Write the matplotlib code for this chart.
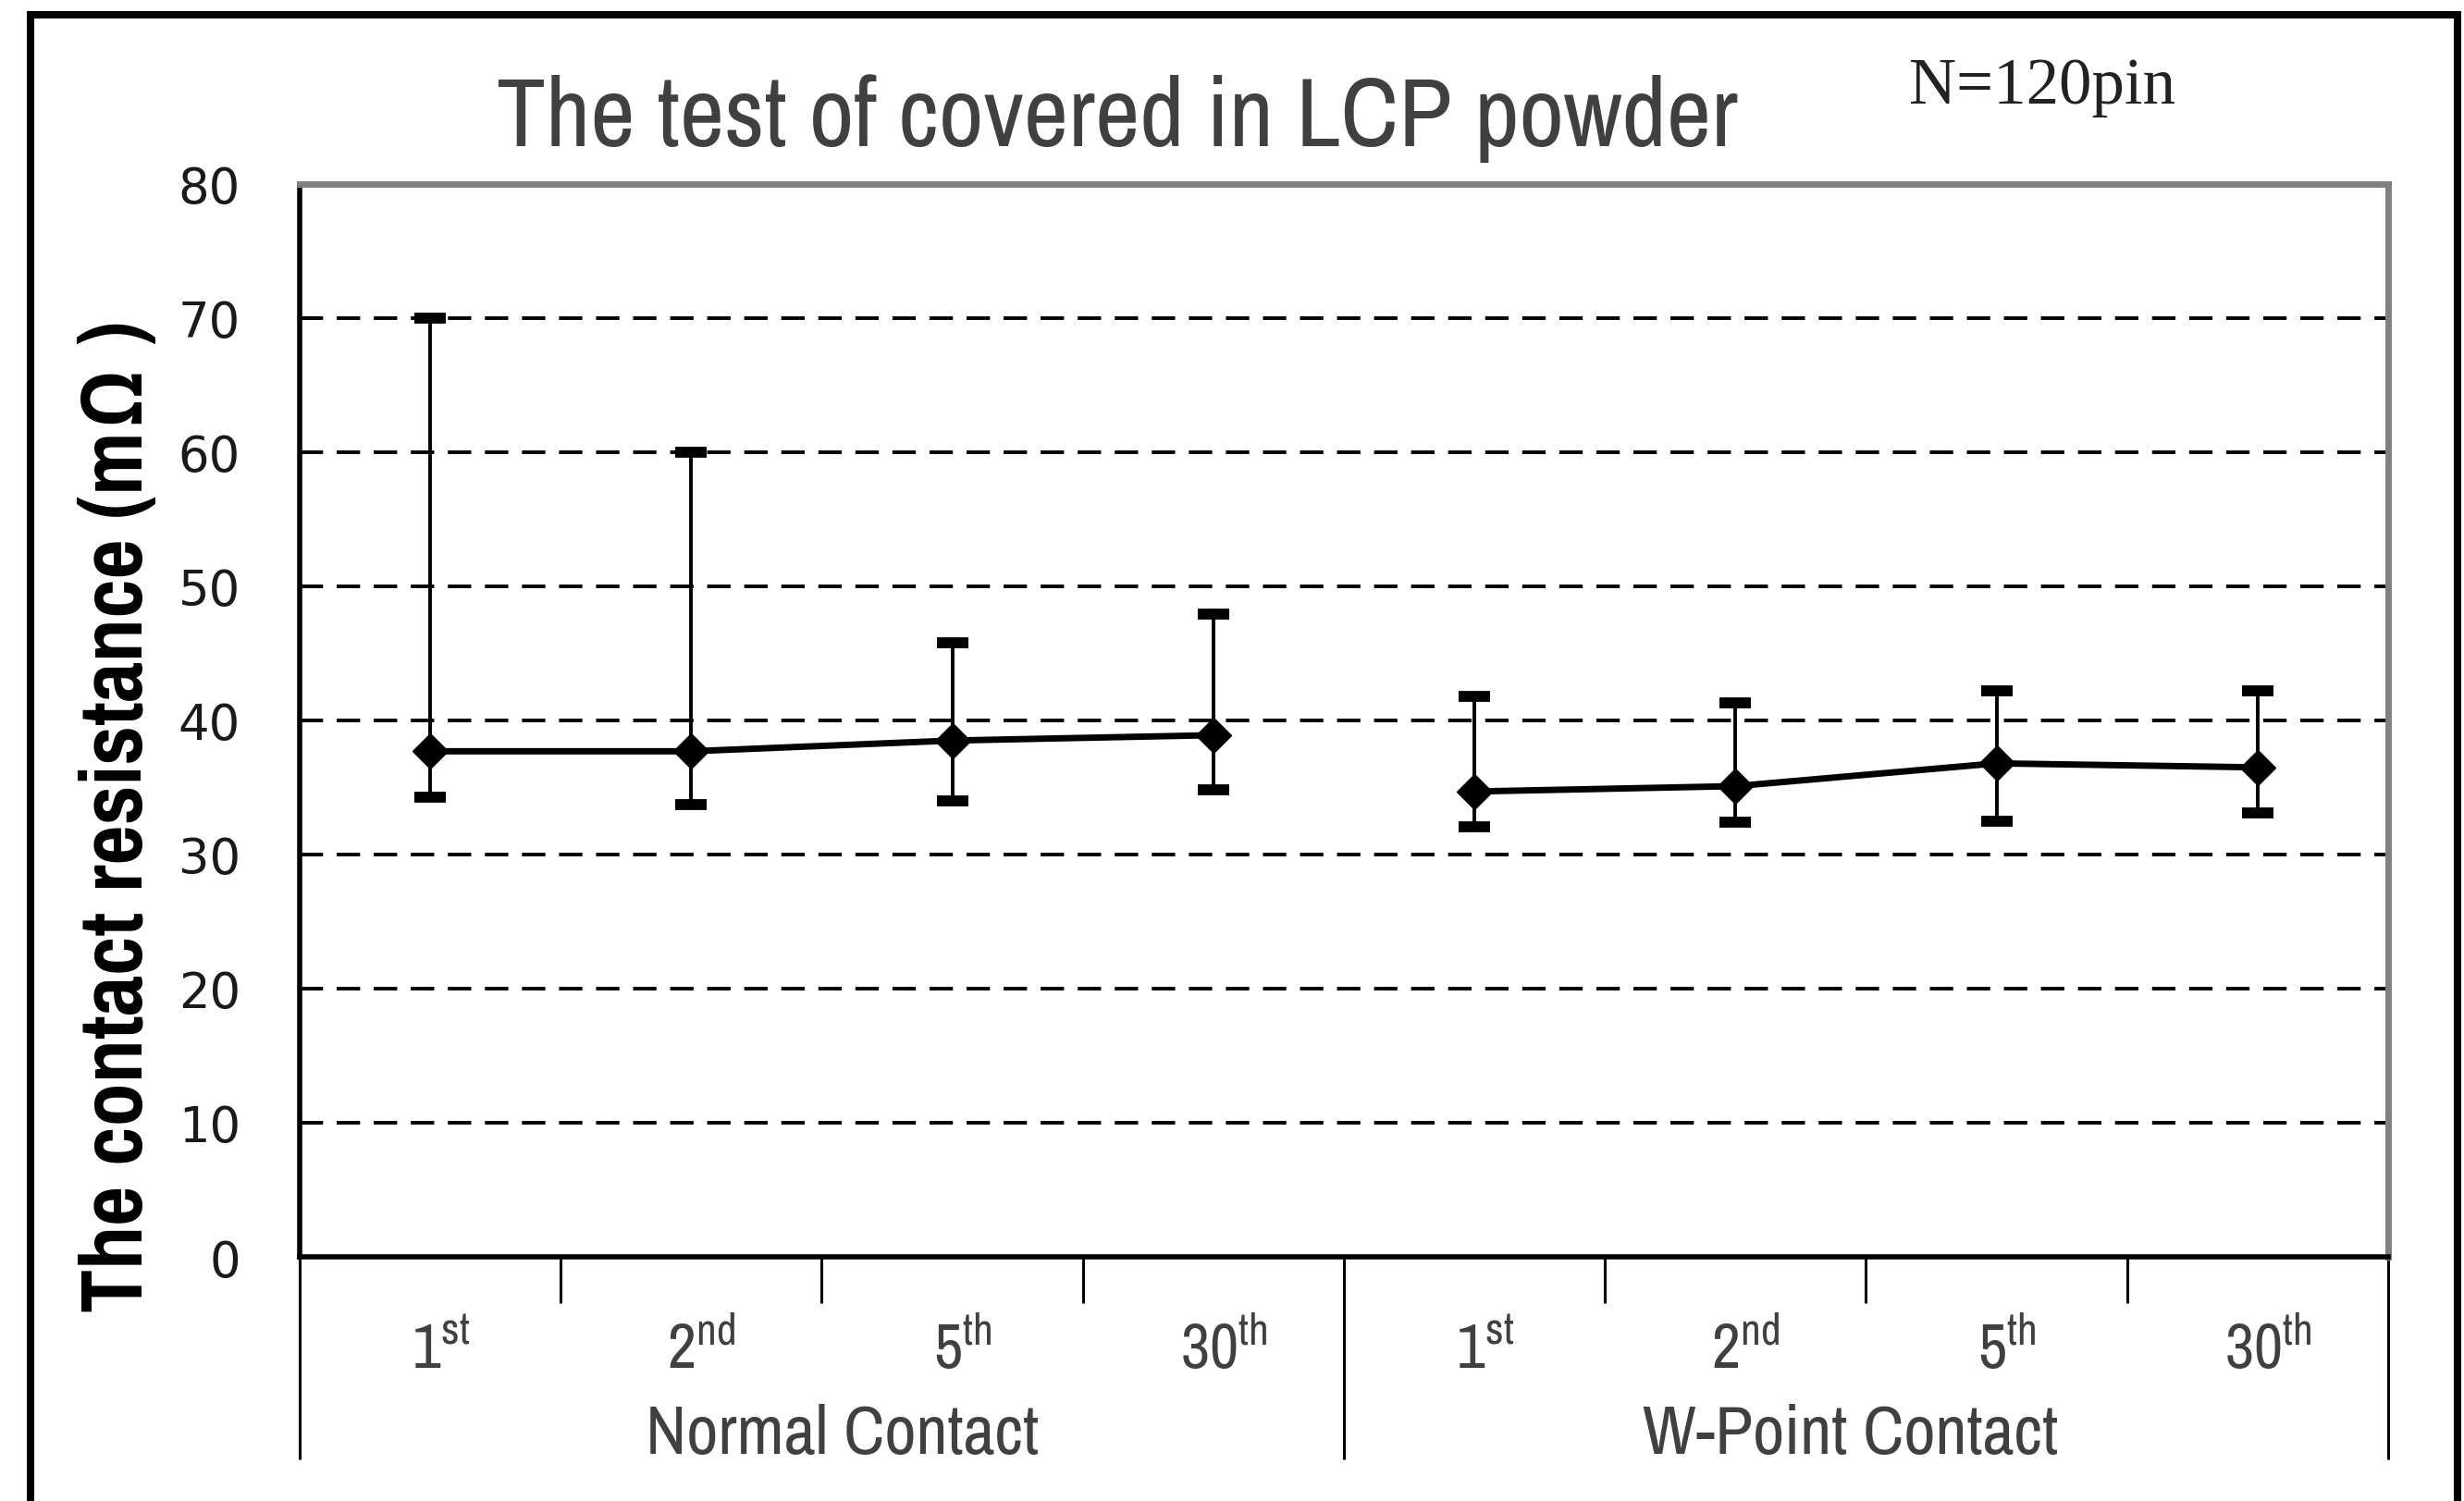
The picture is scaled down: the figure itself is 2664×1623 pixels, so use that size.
import numpy as np
import matplotlib
matplotlib.use('Agg')
import matplotlib.pyplot as plt
from matplotlib import font_manager
from matplotlib.patches import Rectangle
from matplotlib.transforms import blended_transform_factory

# data
rounds = ['1st', '2nd', '5th', '30th']
round_labels = ['1$^{\\mathrm{st}}$', '2$^{\\mathrm{nd}}$', '5$^{\\mathrm{th}}$', '30$^{\\mathrm{th}}$']
groups = ['Normal Contact', 'W-Point Contact']

normal_mean = [37.7, 37.7, 38.5, 38.9]
normal_high = [70.0, 60.0, 45.8, 47.9]
normal_low = [34.3, 33.7, 34.0, 34.8]

wpoint_mean = [34.7, 35.1, 36.8, 36.5]
wpoint_high = [41.8, 41.3, 42.2, 42.2]
wpoint_low = [32.1, 32.4, 32.5, 33.1]

yticks = [0, 10, 20, 30, 40, 50, 60, 70, 80]


# pick Arial-Narrow-like fonts from what is installed
def weight_of(w):
    return font_manager.weight_dict.get(w, 400) if isinstance(w, str) else w

fonts = {}
for f in font_manager.fontManager.ttflist:
    fonts.setdefault(f.name, set()).add(weight_of(f.weight))

cands = ['Liberation Sans Narrow', 'Arial Narrow', 'Archivo Narrow', 'Pragati Narrow',
         'Roboto Condensed', 'PT Sans Narrow', 'IBM Plex Sans Condensed', 'Open Sans Condensed']

def pick(bold=False):
    for c in cands:
        if c in fonts and (not bold or max(fonts[c]) >= 700):
            return c
    return 'Liberation Sans'

narrow = pick()
narrow_bold = pick(bold=True)
plt.rcParams['font.family'] = [narrow, 'DejaVu Sans']
plt.rcParams['mathtext.fontset'] = 'custom'
plt.rcParams['mathtext.rm'] = narrow

fig = plt.figure(figsize=(26.64, 16.24), dpi=100)
ax = fig.add_axes([0.1216, 0.16256, 0.8476, 0.7143])

n = len(rounds)
x_normal = np.arange(n)
x_wpoint = np.arange(n) + n

# dashed gridlines
for y in yticks[1:-1]:
    ax.axhline(y, color='black', lw=2.8, dashes=(6.5, 3.8), zorder=1)


def draw_series(x, mean, low, high):
    mean = np.array(mean)
    yerr = [mean - np.array(low), np.array(high) - mean]
    ax.errorbar(x, mean, yerr=yerr, fmt='none', ecolor='black', elinewidth=2.8,
                capsize=12.5, capthick=8.5, zorder=3)
    ax.plot(x, mean, color='black', lw=5, marker='D', ms=19, zorder=4)


draw_series(x_normal, normal_mean, normal_low, normal_high)
draw_series(x_wpoint, wpoint_mean, wpoint_low, wpoint_high)

ax.set_xlim(-0.5, 2 * n - 0.5)
ax.set_ylim(0, 80)

# spines
for s in ['top', 'right']:
    ax.spines[s].set_color('#808080')
    ax.spines[s].set_linewidth(5)
for s in ['left', 'bottom']:
    ax.spines[s].set_color('black')
    ax.spines[s].set_linewidth(4)

# y axis
ax.set_yticks(yticks)
ax.set_yticklabels([str(v) for v in yticks], family=['DejaVu Sans'], fontsize=38, color='#1a1a1a')
ax.tick_params(axis='y', direction='in', length=16, width=2.8, pad=46)

# x axis: short ticks between rounds, long lines between groups
bounds = np.arange(2 * n + 1) - 0.5
short = [b for i, b in enumerate(bounds) if i % n != 0]
long_ = [b for i, b in enumerate(bounds) if i % n == 0]
ax.set_xticks(short)
ax.set_xticklabels([])
ax.set_xticks(long_, minor=True)
ax.tick_params(axis='x', which='major', direction='out', length=36, width=2.2, color='black')
ax.tick_params(axis='x', which='minor', direction='out', length=158, width=2.2, color='black')

trans = blended_transform_factory(ax.transData, ax.transAxes)
for i, x in enumerate(np.concatenate([x_normal, x_wpoint])):
    ax.text(x + 0.04, -0.1034, round_labels[i % n], transform=trans, ha='center',
            va='baseline', fontsize=49, color='#404040')
group_texts = []
group_shift = [0.08, -0.06]
for g, name in enumerate(groups):
    group_texts.append(ax.text(g * n + (n - 1) / 2 + group_shift[g], -0.1828, name, transform=trans,
                               ha='center', va='baseline', fontsize=53, color='#404040'))

# titles
title = fig.text(0.4535, 0.9027, 'The test of covered in LCP powder', ha='center', va='baseline',
                 fontsize=76, color='#404040')
fig.text(0.7748, 0.931, 'N=120pin', ha='left', va='baseline', fontsize=51,
         family=['Liberation Serif', 'DejaVu Serif'], color='#222222')
ylab = fig.text(0.0477, 0.4563, 'The contact resistance (m\u03a9 )', rotation=90, ha='center',
                va='center', fontsize=58, fontweight='bold', color='black',
                family=[narrow_bold, 'DejaVu Sans'])

# fit the condensed texts to the widths measured on the reference
fig.canvas.draw()
r = fig.canvas.get_renderer()


def fit(t, target, vertical=False):
    bb = t.get_window_extent(r)
    size = bb.height if vertical else bb.width
    t.set_fontsize(t.get_fontsize() * target / size)


fit(title, 1342)
fit(ylab, 1071, vertical=True)
fit(group_texts[0], 425)
for t in group_texts[1:]:
    t.set_fontsize(group_texts[0].get_fontsize())

# outer frame
frame = Rectangle((33 / 2664, -0.1), (2657 - 33) / 2664, 1.1 - 16.5 / 1624, transform=fig.transFigure,
                  fill=False, edgecolor='black', lw=5.8, clip_on=False)
fig.add_artist(frame)

fig.savefig('out.png', dpi=100, facecolor='white')
